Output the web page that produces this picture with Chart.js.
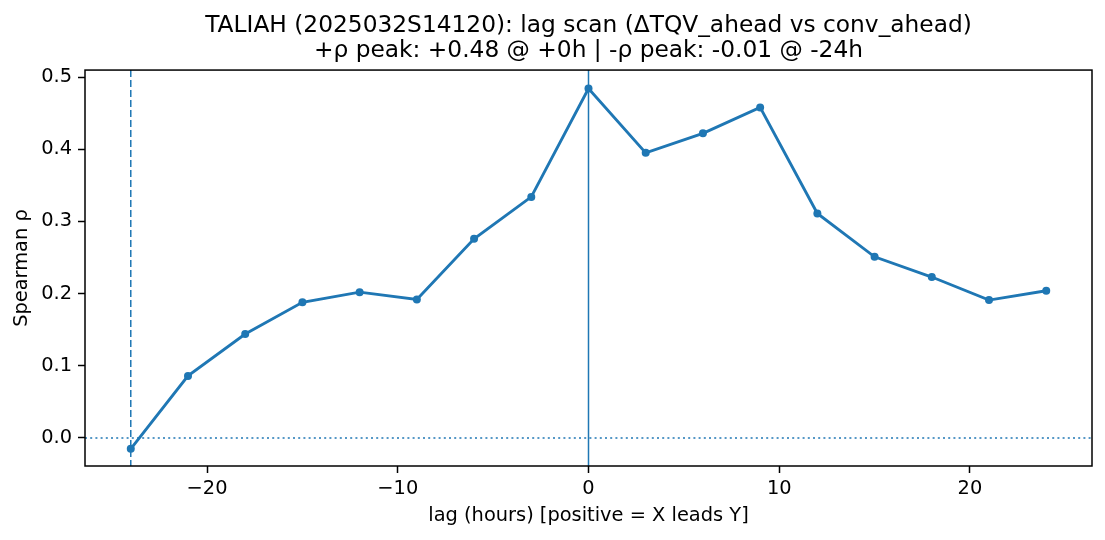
<!DOCTYPE html>
<html>
<head>
<meta charset="utf-8">
<script src="https://cdn.jsdelivr.net/npm/chart.js@4/dist/chart.umd.min.js"></script>
<style>
  html, body { margin: 0; padding: 0; background: #fff; }
  #wrap { width: 1105px; height: 540px; }
</style>
</head>
<body>
<div id="wrap"><canvas id="lagChart" width="1105" height="540"></canvas></div>
<script>
// lag scan data
const lags = [-24, -21, -18, -15, -12, -9, -6, -3, 0, 3, 6, 9, 12, 15, 18, 21, 24];
const rho = [-0.015, 0.086, 0.144, 0.188, 0.202, 0.192, 0.276, 0.334, 0.484, 0.395, 0.422, 0.458, 0.311, 0.251, 0.223, 0.191, 0.204];
const xTicks = [-20, -10, 0, 10, 20];
const yTicks = [0.0, 0.1, 0.2, 0.3, 0.4, 0.5];
const posPeakLag = 0;
const negPeakLag = -24;

const blue = '#1f77b4';
const fontFam = '"DejaVu Sans", sans-serif';
const labelSize = 19.4;

const points = lags.map((l, i) => ({ x: l, y: rho[i] }));

// reference lines + full frame, drawn through the scales
const refLines = {
  id: 'refLines',
  beforeDatasetsDraw(chart) {
    const { ctx, chartArea: a, scales: { x, y } } = chart;
    ctx.save();
    ctx.strokeStyle = blue;
    // dotted y=0
    ctx.lineWidth = 1.6;
    ctx.setLineDash([2, 3.2]);
    let py = y.getPixelForValue(0);
    ctx.beginPath(); ctx.moveTo(a.left, py); ctx.lineTo(a.right, py); ctx.stroke();
    // solid at +peak
    ctx.setLineDash([]);
    ctx.lineWidth = 1.5;
    let px = x.getPixelForValue(posPeakLag);
    ctx.beginPath(); ctx.moveTo(px, a.top); ctx.lineTo(px, a.bottom); ctx.stroke();
    // dashed at -peak
    ctx.setLineDash([7, 3]);
    px = x.getPixelForValue(negPeakLag);
    ctx.beginPath(); ctx.moveTo(px, a.top); ctx.lineTo(px, a.bottom); ctx.stroke();
    ctx.restore();
  },
  afterDraw(chart) {
    const { ctx, chartArea: a } = chart;
    ctx.save();
    ctx.strokeStyle = '#000';
    ctx.lineWidth = 1.5;
    ctx.strokeRect(a.left, a.top, a.right - a.left, a.bottom - a.top);
    ctx.restore();
  }
};

new Chart(document.getElementById('lagChart'), {
  type: 'line',
  data: {
    datasets: [{
      data: points,
      borderColor: blue,
      backgroundColor: blue,
      borderWidth: 2.9,
      pointRadius: 4,
      pointHoverRadius: 4,
      pointBorderWidth: 0,
      tension: 0
    }]
  },
  plugins: [refLines],
  options: {
    responsive: false,
    animation: false,
    layout: { padding: { left: 0, right: 13, top: 0, bottom: 0 } },
    plugins: {
      legend: { display: false },
      tooltip: { enabled: false },
      title: {
        display: true,
        fullSize: false,
        text: ['TALIAH (2025032S14120): lag scan (\u0394TQV_ahead vs conv_ahead)',
               '+\u03c1 peak: +0.48 @ +0h | -\u03c1 peak: -0.01 @ -24h'],
        color: '#000',
        font: { family: fontFam, size: 23.3, weight: 'normal', lineHeight: 1.07 },
        padding: { top: 13.5, bottom: 6.7 }
      }
    },
    scales: {
      x: {
        type: 'linear',
        min: -26.4,
        max: 26.4,
        afterFit: (s) => { s.height = 74; },
        grid: { display: true, drawOnChartArea: false, drawTicks: true, tickLength: 7, color: '#000', tickWidth: 1.5 },
        border: { display: false },
        afterBuildTicks: (s) => { s.ticks = xTicks.map(v => ({ value: v })); },
        ticks: {
          color: '#000',
          font: { family: fontFam, size: labelSize },
          padding: 4,
          maxRotation: 0,
          callback: (v) => String(v).replace('-', '\u2212')
        },
        title: {
          display: true,
          text: 'lag (hours) [positive = X leads Y]',
          color: '#000',
          font: { family: fontFam, size: labelSize },
          padding: { top: 4, bottom: 12 }
        }
      },
      y: {
        min: -0.0388,
        max: 0.5097,
        afterFit: (s) => { s.width = 85; },
        grid: { display: true, drawOnChartArea: false, drawTicks: true, tickLength: 7, color: '#000', tickWidth: 1.5 },
        border: { display: false },
        afterBuildTicks: (s) => { s.ticks = yTicks.map(v => ({ value: v })); },
        ticks: {
          color: '#000',
          font: { family: fontFam, size: labelSize },
          padding: 6,
          callback: (v) => v.toFixed(1)
        },
        title: {
          display: true,
          text: 'Spearman \u03c1',
          color: '#000',
          font: { family: fontFam, size: labelSize },
          padding: { top: 10, bottom: 4 }
        }
      }
    }
  }
});
</script>
</body>
</html>
